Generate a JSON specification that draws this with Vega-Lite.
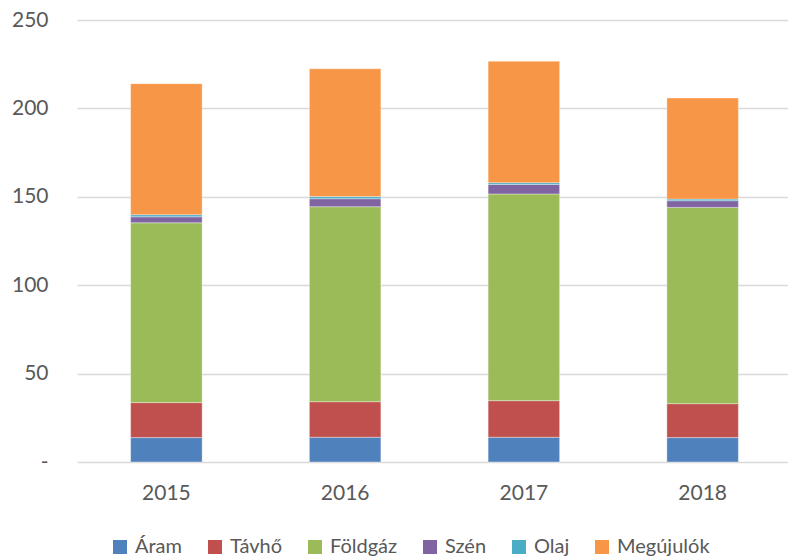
{
  "$schema": "https://vega.github.io/schema/vega-lite/v6.json",
  "width": 715,
  "height": 442,
  "autosize": {"type": "none"},
  "padding": {"left": 77, "top": 20, "right": 0, "bottom": 96},
  "background": "white",
  "data": {
    "values": [
      {"year": "2015", "kind": "Áram", "n": 1, "value": 13.8},
      {"year": "2015", "kind": "Távhő", "n": 2, "value": 19.8},
      {"year": "2015", "kind": "Földgáz", "n": 3, "value": 101.7},
      {"year": "2015", "kind": "Szén", "n": 4, "value": 3.4},
      {"year": "2015", "kind": "Olaj", "n": 5, "value": 1.2},
      {"year": "2015", "kind": "Megújulók", "n": 6, "value": 74.1},
      {"year": "2016", "kind": "Áram", "n": 1, "value": 14.0},
      {"year": "2016", "kind": "Távhő", "n": 2, "value": 20.1},
      {"year": "2016", "kind": "Földgáz", "n": 3, "value": 110.3},
      {"year": "2016", "kind": "Szén", "n": 4, "value": 4.5},
      {"year": "2016", "kind": "Olaj", "n": 5, "value": 1.2},
      {"year": "2016", "kind": "Megújulók", "n": 6, "value": 72.3},
      {"year": "2017", "kind": "Áram", "n": 1, "value": 14.0},
      {"year": "2017", "kind": "Távhő", "n": 2, "value": 20.7},
      {"year": "2017", "kind": "Földgáz", "n": 3, "value": 116.9},
      {"year": "2017", "kind": "Szén", "n": 4, "value": 5.4},
      {"year": "2017", "kind": "Olaj", "n": 5, "value": 1.0},
      {"year": "2017", "kind": "Megújulók", "n": 6, "value": 68.7},
      {"year": "2018", "kind": "Áram", "n": 1, "value": 13.8},
      {"year": "2018", "kind": "Távhő", "n": 2, "value": 19.2},
      {"year": "2018", "kind": "Földgáz", "n": 3, "value": 111.0},
      {"year": "2018", "kind": "Szén", "n": 4, "value": 3.8},
      {"year": "2018", "kind": "Olaj", "n": 5, "value": 0.9},
      {"year": "2018", "kind": "Megújulók", "n": 6, "value": 57.2}
    ]
  },
  "config": {
    "font": "Lato",
    "view": {"stroke": null},
    "axis": {"labelFont": "Lato", "labelFontSize": 21, "labelColor": "#595959"}
  },
  "mark": {"type": "bar", "stroke": "white", "strokeWidth": 0.6, "strokeOpacity": 0.6},
  "encoding": {
    "x": {
      "field": "year",
      "type": "nominal",
      "scale": {"paddingInner": 0.6, "paddingOuter": 0.3},
      "axis": {
        "title": null,
        "labelAngle": 0,
        "domain": false,
        "ticks": false,
        "labelPadding": 20
      }
    },
    "y": {
      "field": "value",
      "type": "quantitative",
      "aggregate": "sum",
      "stack": "zero",
      "scale": {"domain": [0, 250], "nice": false},
      "axis": {
        "title": null,
        "values": [0, 50, 100, 150, 200, 250],
        "domain": false,
        "ticks": false,
        "labelPadding": 29,
        "gridColor": "#d9d9d9",
        "gridWidth": 1.5,
        "labelExpr": "datum.value == 0 ? '-' : datum.label"
      }
    },
    "color": {
      "field": "kind",
      "type": "nominal",
      "sort": ["Áram", "Távhő", "Földgáz", "Szén", "Olaj", "Megújulók"],
      "scale": {
        "domain": ["Áram", "Távhő", "Földgáz", "Szén", "Olaj", "Megújulók"],
        "range": ["#4F81BD", "#C0504D", "#9BBB59", "#8064A2", "#4BACC6", "#F79646"]
      },
      "legend": {
        "title": null,
        "orient": "none",
        "direction": "horizontal",
        "legendX": 33,
        "legendY": 517,
        "padding": 0,
        "symbolType": "square",
        "symbolSize": 196,
        "symbolStrokeWidth": 0,
        "labelFont": "Lato",
        "labelFontSize": 20,
        "labelColor": "#595959",
        "labelOffset": 5,
        "columnPadding": 22
      }
    },
    "order": {"field": "n", "type": "quantitative", "sort": "ascending"}
  }
}
